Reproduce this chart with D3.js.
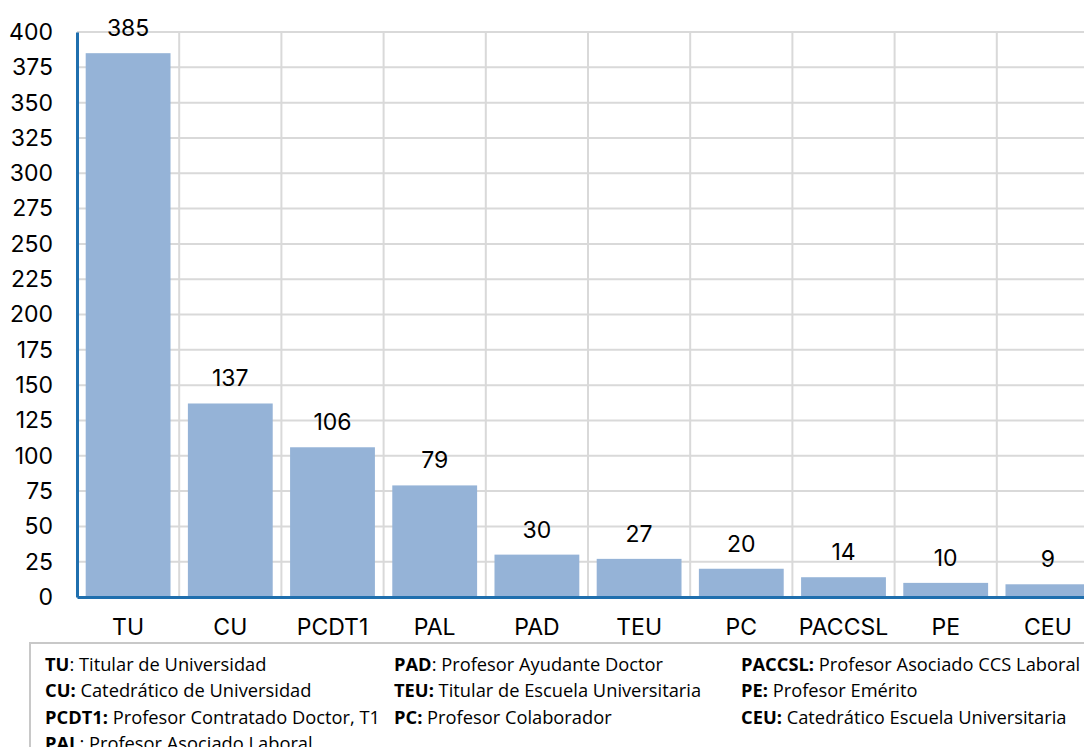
<!DOCTYPE html>
<html>
<head>
<meta charset="utf-8">
<style>
  body { margin: 0; background: #fff; overflow: hidden; }
  svg { display: block; }
</style>
</head>
<body>
<svg width="1084" height="747"></svg>
<script src="https://d3js.org/d3.v7.min.js"></script>
<script>

// datos: número de profesores por categoría
var categorias = ["TU", "CU", "PCDT1", "PAL", "PAD", "TEU", "PC", "PACCSL", "PE", "CEU"];
var valores = [385, 137, 106, 79, 30, 27, 20, 14, 10, 9];
var ticksY = d3.range(0, 401, 25);

// leyenda en tres columnas
var leyendaCol1 = [["TU", ": Titular de Universidad"], ["CU:", " Catedrático de Universidad"],
  ["PCDT1:", " Profesor Contratado Doctor, T1"], ["PAL", ": Profesor Asociado Laboral"]];
var leyendaCol2 = [["PAD", ": Profesor Ayudante Doctor"], ["TEU:", " Titular de Escuela Universitaria"],
  ["PC:", " Profesor Colaborador"]];
var leyendaCol3 = [["PACCSL:", " Profesor Asociado CCS Laboral"], ["PE:", " Profesor Emérito"],
  ["CEU:", " Catedrático Escuela Universitaria"]];

var svg = d3.select("svg");
var mLeft = 77, mTop = 32, mBottom = 597, band = 102.2;

var x = d3.scaleBand()
    .domain(categorias)
    .range([mLeft, mLeft + band * categorias.length])
    .paddingInner(0.17)
    .paddingOuter(0.085);

var y = d3.scaleLinear().domain([0, 400]).range([mBottom, mTop]);

var axisFont = "Inter, Roboto, sans-serif";
var axisSize = 23;

// rejilla horizontal
svg.append("g").selectAll("line")
  .data(ticksY)
  .enter().append("line")
    .attr("x1", mLeft).attr("x2", 1084)
    .attr("y1", function(d) { return y(d); })
    .attr("y2", function(d) { return y(d); })
    .attr("stroke", "#d9d9d9").attr("stroke-width", 2);

// rejilla vertical (límites de categoría)
svg.append("g").selectAll("line")
  .data(d3.range(1, categorias.length + 1))
  .enter().append("line")
    .attr("x1", function(i) { return mLeft + band * i; })
    .attr("x2", function(i) { return mLeft + band * i; })
    .attr("y1", mTop).attr("y2", mBottom)
    .attr("stroke", "#d9d9d9").attr("stroke-width", 2);

// barras
svg.append("g").selectAll("rect")
  .data(valores)
  .enter().append("rect")
    .attr("x", function(d, i) { return x(categorias[i]); })
    .attr("y", function(d) { return y(d); })
    .attr("width", x.bandwidth())
    .attr("height", function(d) { return mBottom - y(d); })
    .attr("fill", "#95b3d7");

// etiquetas de datos
svg.append("g").selectAll("text")
  .data(valores)
  .enter().append("text")
    .attr("x", function(d, i) { return x(categorias[i]) + x.bandwidth() / 2; })
    .attr("y", function(d) { return y(d) - 17; })
    .attr("text-anchor", "middle")
    .attr("font-family", axisFont)
    .attr("font-size", axisSize)
    .attr("fill", "#000")
    .text(function(d) { return d; });

// eje Y
var yAxis = svg.append("g")
    .attr("transform", "translate(" + mLeft + ",0)")
    .call(d3.axisLeft(y).tickValues(ticksY).tickSize(0).tickPadding(24));
yAxis.select(".domain").attr("stroke", "#1f6fae").attr("stroke-width", 3);
yAxis.selectAll("text").attr("font-family", axisFont).attr("font-size", axisSize).attr("fill", "#000");

// eje X
var xAxis = svg.append("g")
    .attr("transform", "translate(0," + mBottom + ")")
    .call(d3.axisBottom(x).tickSize(0).tickPadding(22));
xAxis.select(".domain").attr("stroke", "#1f6fae").attr("stroke-width", 3);
xAxis.selectAll("text").attr("font-family", axisFont).attr("font-size", axisSize).attr("fill", "#000");

// cuadro de leyenda
svg.append("rect")
    .attr("x", 30).attr("y", 643)
    .attr("width", 1100).attr("height", 200)
    .attr("fill", "none").attr("stroke", "#c8c8c8").attr("stroke-width", 2);

var legFont = "'Open Sans', sans-serif";
[[leyendaCol1, 45], [leyendaCol2, 394], [leyendaCol3, 741]].forEach(function(col) {
  svg.append("g").selectAll("text")
    .data(col[0])
    .enter().append("text")
      .attr("x", col[1])
      .attr("y", function(d, i) { return 671 + i * 26.3; })
      .attr("font-family", legFont)
      .attr("font-size", 18.3)
      .attr("fill", "#000")
      .each(function(d) {
        var t = d3.select(this);
        t.append("tspan").attr("font-weight", "bold").text(d[0]);
        t.append("tspan").text(d[1]);
      });
});

</script>
</body>
</html>
